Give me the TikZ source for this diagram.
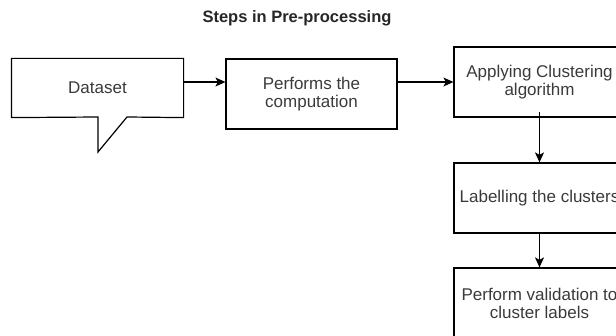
\documentclass[tikz,border=0pt]{standalone}
\usepackage{fontspec}
\setmainfont{Liberation Sans}
\usetikzlibrary{arrows.meta}
\definecolor{txt}{HTML}{3A3A3A}
\begin{document}
\begin{tikzpicture}[x=1pt,y=-1pt,
  box/.style={draw=black, line width=1.2pt, minimum width=171pt, minimum height=70pt,
    inner sep=0pt, align=center, font=\fontsize{17}{18}\selectfont, text=txt},
  arr/.style={-{Stealth[length=10pt,width=9pt,inset=2.5pt]}, line width=1.1pt}]
\useasboundingbox (0,0) rectangle (616,336);
\clip (0,0) rectangle (616,336);
\node[font=\bfseries\fontsize{16.5}{18}\selectfont, text=black!85] (title) at (297,18) {Steps in Pre-processing};
% Dataset callout
\node[box, draw=none, minimum height=58pt] (ds) at (97.5,88) {Dataset};
\coordinate (tl) at (98,117);
\coordinate (tr) at (127,117);
\coordinate (tip) at (98,152);
\draw[line width=1.2pt, line join=miter] (ds.north west) -- (ds.north east) -- (ds.south east) -- (tr) -- (tip) -- (tl) -- (ds.south west) -- cycle;
\node[box] (perf) at (311.5,94) {Performs the\\computation};
\node[box] (apply) at (539.5,82) {Applying Clustering\\algorithm};
\node[box] (label) at (539.5,198) {Labelling the clusters};
\node[box] (valid) at (539.5,303) {Perform validation to\\cluster labels};
\draw[arr] (ds.east |- apply.west) -- (perf.west |- apply.west);
\draw[arr] (perf.east |- apply.west) -- (apply.west);
\draw[arr] ([yshift=6pt]apply.south) -- (label.north);
\draw[arr] (label.south) -- (valid.north);
\end{tikzpicture}
\end{document}
